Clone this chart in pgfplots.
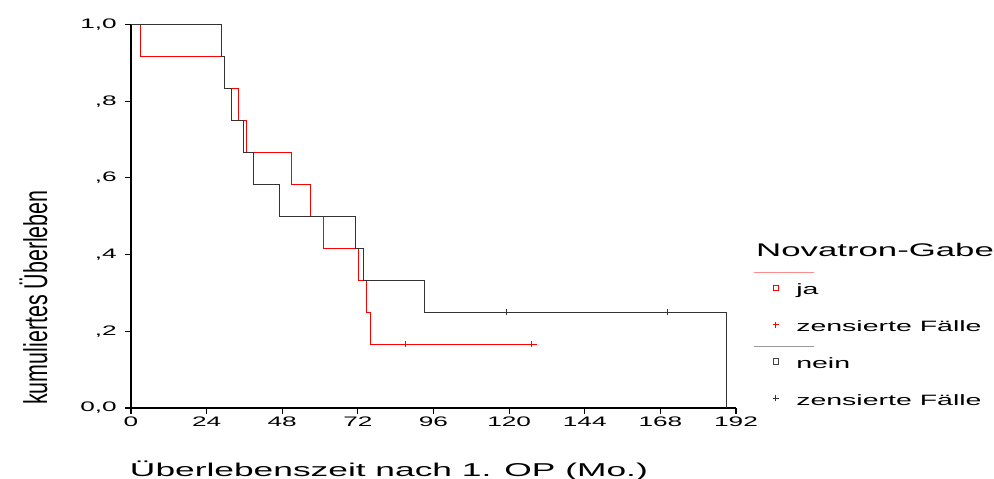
\documentclass[border=0pt]{standalone}
\usepackage{fontspec}
\setmainfont{Liberation Sans}
\newfontfamily\wide[FakeStretch=1.9]{Liberation Sans}
\newfontfamily\narrow[FakeStretch=0.65]{Liberation Sans}
\usepackage{pgfplots}
\pgfplotsset{compat=1.18}
\begin{document}
\begin{tikzpicture}
\path[use as bounding box] (0,0) rectangle (994pt,479pt);
\begin{axis}[
  at={(131pt,71pt)}, anchor=south west,
  scale only axis, width=605pt, height=383.5pt,
  xmin=0, xmax=192, ymin=0, ymax=1,
  axis x line*=bottom, axis y line*=left,
  axis line style={-, line width=1.2pt, black},
  tick align=outside, major tick length=6pt,
  tick style={line width=1.2pt, black},
  xtick={0,24,...,192},
  ytick={0,0.2,0.4,0.6,0.8,1},
  yticklabels={{0,0},{,2},{,4},{,6},{,8},{1,0}},
  /pgf/number format/assume math mode=true,
  ticklabel style={font=\wide\fontsize{13.8}{15}\selectfont, inner sep=0pt},
  yticklabel style={xshift=-8pt},
  xticklabel style={yshift=-3pt},
  xlabel={Überlebenszeit nach 1. OP (Mo.)},
  xlabel style={at={(axis description cs:-0.002,-0.179)}, anchor=base west, font=\wide\fontsize{18.6}{20}\selectfont, inner sep=0pt},
  ylabel={kumuliertes Überleben},
  ylabel style={at={(axis description cs:-0.1388,0.288)}, anchor=base, font=\narrow\fontsize{33}{34}\selectfont, inner sep=0pt},
  clip=false,
  legend style={at={(axis description cs:1.0603,0.3364)}, anchor=north west, draw=none, fill=none, inner sep=0pt, outer sep=0pt, row sep=18.7pt, column sep=17pt, font=\wide\fontsize{15}{16}\selectfont, nodes={inner sep=0pt, text height=16pt, text depth=2pt}},
  legend cell align=left,
]
% ja
\addplot[const plot, red, line width=1pt, forget plot] coordinates {(0,1) (3.1,0.9167) (29.8,0.8333) (34.1,0.75) (36.7,0.6667) (50.9,0.5833) (57.1,0.5) (61.0,0.4167) (72.1,0.3333) (74.8,0.25) (75.9,0.1667) (128.8,0.1667)};
\addplot[only marks, mark=|, mark size=3pt, red, mark options={line width=0.9pt}, forget plot] coordinates {(87.2,0.1667) (127.0,0.1667)};
% nein
\addplot[const plot, black!80, line width=1pt, forget plot] coordinates {(0,1) (28.8,0.9167) (29.8,0.8333) (32.0,0.75) (35.7,0.6667) (38.9,0.5833) (47.0,0.5) (71.1,0.4167) (73.8,0.3333) (93.1,0.25) (189.0,0)};
\addplot[only marks, mark=|, mark size=3pt, black!80, mark options={line width=0.9pt}, forget plot] coordinates {(119.3,0.25) (170.4,0.25)};
% legend
\addlegendimage{legend image code/.code={
  \draw[overlay, red!45, line width=1pt] (-22pt,15.3pt) -- (38pt,15.3pt);
  \draw[red, line width=0.8pt] (-2.7pt,-2.7pt) rectangle (2.7pt,2.7pt);}}
\addlegendentry{ja}
\addlegendimage{legend image code/.code={
  \draw[red, line width=0.8pt] (-3pt,0pt) -- (3pt,0pt) (0pt,-3pt) -- (0pt,3pt);}}
\addlegendentry{zensierte Fälle}
\addlegendimage{legend image code/.code={
  \draw[overlay, black!40, line width=1pt] (-22pt,14.7pt) -- (38pt,14.7pt);
  \draw[black!75, line width=0.8pt] (-2.7pt,-2.7pt) rectangle (2.7pt,2.7pt);}}
\addlegendentry{nein}
\addlegendimage{legend image code/.code={
  \draw[black!80, line width=0.8pt] (-3pt,0pt) -- (3pt,0pt) (0pt,-3pt) -- (0pt,3pt);}}
\addlegendentry{zensierte Fälle}
\end{axis}
\node[anchor=base west, inner sep=0pt, font=\wide\fontsize{18.3}{20}\selectfont] at (756pt,222.3pt) {Novatron-Gabe};
\end{tikzpicture}
\end{document}
